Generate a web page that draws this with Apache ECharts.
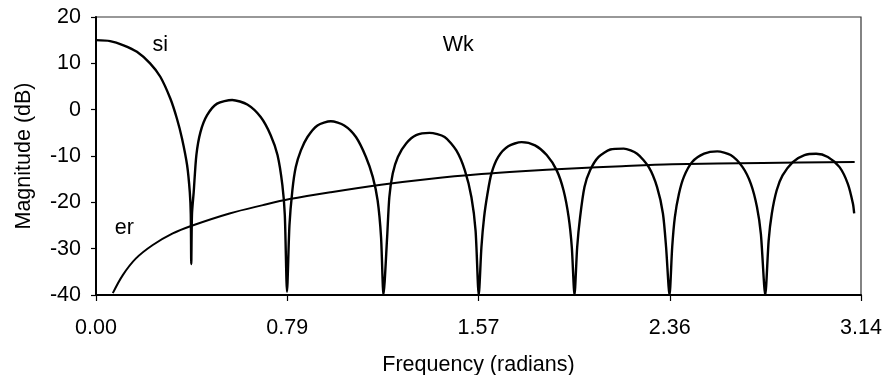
<!DOCTYPE html>
<html>
<head>
<meta charset="utf-8">
<script src="https://cdn.jsdelivr.net/npm/echarts@6/dist/echarts.min.js"></script>
<style>
  html, body { margin: 0; padding: 0; background: #fff; }
  #chart { width: 883px; height: 375px; }
</style>
</head>
<body>
<div id="chart"></div>
<script>
// ---- data ----
var xTickLabels = ["0.00", "0.79", "1.57", "2.36", "3.14"];
var xTickStep = 0.785;

// "si" curve: frequency (rad) and magnitude (dB)
var siX = [
  0.000, 0.058, 0.113, 0.168, 0.222, 0.264, 0.305, 0.332, 0.353, 0.374, 0.385, 0.389, 0.391,
  0.394, 0.401, 0.412, 0.429, 0.456, 0.497, 0.559, 0.621, 0.676, 0.717, 0.745, 0.765, 0.775, 0.784,
  0.794, 0.806, 0.820, 0.841, 0.868, 0.909, 0.964, 1.019, 1.067, 1.108, 1.136, 1.156, 1.170, 1.180,
  1.195, 1.204, 1.218, 1.239, 1.273, 1.314, 1.369, 1.431, 1.479, 1.514, 1.541, 1.558, 1.571,
  1.582, 1.593, 1.607, 1.623, 1.651, 1.692, 1.747, 1.802, 1.850, 1.891, 1.919, 1.940, 1.953, 1.964,
  1.975, 1.987, 2.005, 2.028, 2.063, 2.111, 2.166, 2.221, 2.269, 2.303, 2.327, 2.340, 2.354,
  2.365, 2.376, 2.393, 2.413, 2.447, 2.496, 2.550, 2.605, 2.654, 2.688, 2.713, 2.729, 2.747,
  2.761, 2.774, 2.794, 2.818, 2.860, 2.908, 2.956, 3.004, 3.052, 3.086, 3.107, 3.112
];
var siY = [
  15.0, 14.8, 13.9, 12.5, 10.0, 7.1, 2.4, -1.9, -6.2, -12.0, -17.8, -22.5, -33.3,
  -22.5, -17.8, -9.8, -4.8, -1.2, 1.3, 2.1, 1.1, -1.6, -5.5, -9.8, -16.3, -22.8, -39.3,
  -25.0, -17.4, -12.4, -8.8, -5.9, -3.4, -2.5, -3.4, -5.9, -10.2, -14.5, -19.6, -27.5, -40.0,
  -27.5, -18.9, -13.8, -10.2, -7.3, -5.5, -5.0, -5.9, -8.8, -13.1, -18.9, -26.1, -40.0,
  -29.7, -23.2, -18.1, -13.8, -10.2, -7.9, -7.0, -7.7, -9.8, -13.1, -17.4, -23.2, -29.7, -40.0,
  -29.7, -23.2, -16.7, -13.1, -10.2, -8.6, -8.4, -9.5, -12.4, -16.7, -22.4, -29.7, -40.0,
  -29.7, -23.2, -18.1, -14.5, -11.3, -9.5, -9.0, -9.8, -12.4, -16.0, -21.0, -26.8, -40.0,
  -28.2, -22.4, -17.4, -14.2, -11.3, -9.8, -9.5, -10.2, -12.4, -16.0, -20.3, -22.4
];

// "er" curve
var erX = [0.069, 0.110, 0.164, 0.233, 0.315, 0.390, 0.548, 0.685, 0.795, 0.964, 1.170, 1.376, 1.582, 1.747, 1.953, 2.159, 2.365, 2.736, 3.114];
var erY = [-39.6, -35.7, -32.1, -29.2, -26.7, -25.1, -22.4, -20.6, -19.3, -17.8, -16.2, -14.9, -13.9, -13.3, -12.7, -12.2, -11.8, -11.5, -11.3];

// text annotations inside the plot
var noteText = ["si", "Wk", "er"];
var noteX = [0.264, 1.487, 0.116];
var noteY = [13.9, 14.0, -25.6];

// ---- chart ----
function pairs(xs, ys) {
  var out = [];
  for (var i = 0; i < xs.length; i++) out.push([xs[i], ys[i]]);
  return out;
}
var font = "'Liberation Sans', Arial, sans-serif";
var fs = 21.5;
var notes = [];
for (var i = 0; i < noteText.length; i++) {
  notes.push({ name: noteText[i], coord: [noteX[i], noteY[i]] });
}

var chart = echarts.init(document.getElementById('chart'), null, { renderer: 'canvas' });
chart.setOption({
  animation: false,
  backgroundColor: '#ffffff',
  grid: {
    left: 96, right: 22, top: 17, bottom: 80,
    containLabel: false, outerBoundsMode: 'none',
    show: true, borderColor: '#333', borderWidth: 1.2, backgroundColor: 'transparent'
  },
  xAxis: {
    type: 'value', min: 0, max: 3.14, interval: xTickStep,
    axisLine: { show: true, onZero: false, lineStyle: { color: '#000', width: 2 } },
    axisTick: { show: true, inside: false, length: 6, lineStyle: { color: '#000', width: 1.2 } },
    splitLine: { show: false },
    axisLabel: {
      color: '#000', fontSize: fs, fontFamily: font, margin: 22,
      formatter: function (v) { return xTickLabels[Math.round(v / xTickStep)]; }
    },
    name: 'Frequency (radians)', nameLocation: 'middle', nameGap: 59,
    nameTextStyle: { color: '#000', fontSize: fs, fontFamily: font }
  },
  yAxis: {
    type: 'value', min: -40, max: 20, interval: 10,
    axisLine: { show: true, onZero: false, lineStyle: { color: '#000', width: 2 } },
    axisTick: { show: true, inside: false, length: 5, lineStyle: { color: '#000', width: 1.2 } },
    splitLine: { show: false },
    axisLabel: { color: '#000', fontSize: fs, fontFamily: font, margin: 15 },
    name: 'Magnitude (dB)', nameLocation: 'middle', nameGap: 61, nameRotate: 90,
    nameTextStyle: { color: '#000', fontSize: fs, fontFamily: font }
  },
  series: [
    {
      name: 'si', type: 'line', data: pairs(siX, siY), showSymbol: false, symbol: 'none',
      smooth: 0.25, clip: true,
      lineStyle: { color: '#000', width: 2.4 },
      markPoint: {
        symbol: 'circle', symbolSize: 0, silent: true, animation: false,
        label: { show: true, position: 'inside', formatter: '{b}', color: '#000', fontSize: fs, fontFamily: font },
        data: notes
      }
    },
    {
      name: 'er', type: 'line', data: pairs(erX, erY), showSymbol: false, symbol: 'none',
      smooth: 0.35, clip: true,
      lineStyle: { color: '#000', width: 2 }
    }
  ]
});
</script>
</body>
</html>
